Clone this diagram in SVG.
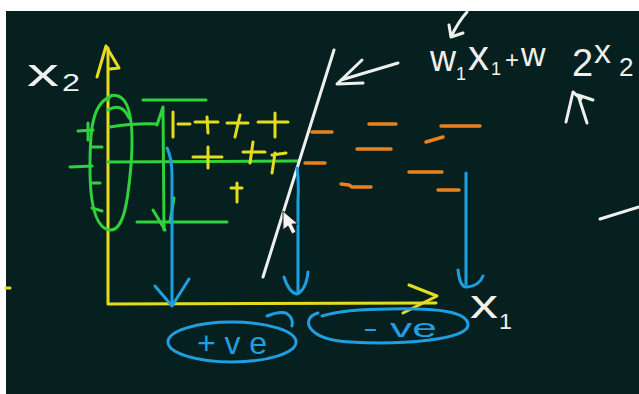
<svg xmlns="http://www.w3.org/2000/svg" width="639" height="394" viewBox="0 0 639 394">
  <style>
    .s { fill: none; stroke-linecap: round; stroke-linejoin: round; stroke-width: 3; }
    .yel { stroke: #e6dc1e; }
    .grn { stroke: #2fd23a; }
    .blu { stroke: #1f9fe0; }
    .org { stroke: #e8821e; stroke-width: 3.5; }
    .wht { stroke: #eef0ee; }
    .hw { fill: #eef0ee; font-family: "Liberation Sans", "DejaVu Sans", sans-serif; }
    .hb { fill: #1f9fe0; font-family: "Liberation Sans", "DejaVu Sans", sans-serif; }
  </style>

  <!-- board -->
  <rect x="0" y="0" width="639" height="394" fill="#ffffff"/>
  <rect x="6" y="11" width="633" height="383" fill="#05201f"/>

  <!-- axes -->
  <g id="axes" class="s yel">
    <path d="M108,48 L108,304 L436,303"/>
    <path d="M97,77 L106,46 L119,68 L110,69"/>
    <path d="M409,285 L437,296 L403,313"/>
    <path d="M6,288 L10,288"/>
  </g>

  <!-- green projections onto the x2 axis -->
  <g id="x2-projection" class="s grn">
    <path d="M110,97 C90,104 90,140 90,168 C90,200 94,228 110,230 C124,231 128,200 131,165 C134,125 130,100 118,96 C112,94 108,96 108,100"/>
    <path d="M108,110 Q122,102 129,118"/>
    <path d="M78,131 L93,130 M88,123 L88,140"/>
    <path d="M92,147 L102,147"/>
    <path d="M70,167 L92,166"/>
    <path d="M92,183 L100,183"/>
    <path d="M92,208 L102,211"/>
    <path d="M143,100 L206,100"/>
    <path d="M110,127 Q135,123 157,124"/>
    <path d="M157,125 L163,107 L164,230"/>
    <path d="M153,210 L165,230 M174,198 L170,222"/>
    <path d="M108,162 L298,161"/>
    <path d="M137,222 L227,222"/>
  </g>

  <!-- positive class points -->
  <g id="positive-points" class="s yel">
    <path d="M173,112 L173,137 M178,124 L190,124"/>
    <path d="M195,122 L218,122 M207,117 L208,133"/>
    <path d="M227,123 L248,123 M240,115 L235,137"/>
    <path d="M258,122 L288,122 M275,113 L275,137"/>
    <path d="M193,157 L222,157 M208,147 L208,168"/>
    <path d="M243,152 L265,152 M253,142 L250,163"/>
    <path d="M272,155 L286,153 M275,153 L272,173"/>
    <path d="M231,188 L242,188 M237,183 L237,202"/>
  </g>

  <!-- negative class points -->
  <g id="negative-points" class="s org">
    <path d="M312,132 L332,132"/>
    <path d="M369,124 L396,124"/>
    <path d="M441,126 L480,126"/>
    <path d="M426,142 L443,137"/>
    <path d="M357,149 L391,149"/>
    <path d="M305,163 L325,163"/>
    <path d="M409,172 L442,172"/>
    <path d="M341,184 L349,185 L352,187 L371,187"/>
    <path d="M438,190 L459,190"/>
  </g>

  <!-- decision boundary w1x1 + w2x2 -->
  <g id="boundary" class="s wht">
    <path d="M263,277 L334,50"/>
    <path d="M362,60 L337,84 L363,83 M341,80 L398,63"/>
  </g>

  <!-- projections onto the x1 axis -->
  <g id="connectors" class="s blu">
    <path d="M167,148 Q172,158 172,176 L172,304"/>
    <path d="M155,286 L172,306 L189,279"/>
    <path d="M297,168 Q299,182 298,200 L298,292"/>
    <path d="M284,277 Q289,293 297,294 Q306,290 308,272"/>
    <path d="M466,173 L466,284"/>
    <path d="M458,270 Q460,288 467,287 Q479,286 483,276"/>
  </g>

  <!-- side labels -->
  <g id="plus-ve">
    <ellipse cx="232" cy="342" rx="64" ry="20" class="s blu"/>
    <path d="M267,316 Q279,311 286,313 Q294,318 292,326" class="s blu"/>
    <text x="197" y="354" font-size="32" textLength="70" lengthAdjust="spacing" class="hb">+ve</text>
  </g>
  <g id="minus-ve">
    <path d="M318,313 C300,318 306,340 350,342 C400,345 468,340 468,325 C468,312 440,308 390,309 C360,309 335,312 322,316" class="s blu"/>
    <text x="363" y="337" font-size="26" textLength="74" lengthAdjust="spacingAndGlyphs" class="hb">- ve</text>
  </g>

  <!-- axis labels -->
  <g id="label-x2" class="hw">
    <text x="27" y="86" font-size="38" textLength="32" lengthAdjust="spacingAndGlyphs">x</text>
    <text x="62" y="91" font-size="24" textLength="18" lengthAdjust="spacingAndGlyphs">2</text>
  </g>
  <g id="label-x1" class="hw">
    <text x="470" y="318" font-size="40" textLength="28" lengthAdjust="spacingAndGlyphs">x</text>
    <text x="499" y="329" font-size="22" textLength="13" lengthAdjust="spacingAndGlyphs">1</text>
  </g>

  <!-- equation of the boundary -->
  <g id="equation" class="hw">
    <text font-size="36"><tspan x="430" y="71">w</tspan><tspan x="456" y="80" font-size="18">1</tspan><tspan x="468" y="70" font-size="42">x</tspan><tspan x="491" y="75" font-size="18">1</tspan><tspan x="505" y="68" font-size="24">+</tspan><tspan x="521" y="66" font-size="34">w</tspan></text>
    <text font-size="38"><tspan x="572" y="76">2</tspan><tspan x="594" y="63" font-size="34">x</tspan><tspan x="619" y="76" font-size="26">2</tspan></text>
    <path d="M467,12 Q458,22 451,37 M449,25 L451,37 L463,33" class="s wht"/>
    <path d="M566,122 L573,92 L581,99 M587,123 L578,95 L593,100" class="s wht"/>
    <path d="M600,219 L639,207" class="s wht"/>
  </g>

  <!-- pointer -->
  <g id="pointer">
    <path d="M283,211 L283,230 L288,226 L292,234 L296,232 L292,224 L298,224 Z" fill="#f4f4f4" stroke="#222" stroke-width="1"/>
  </g>
</svg>
